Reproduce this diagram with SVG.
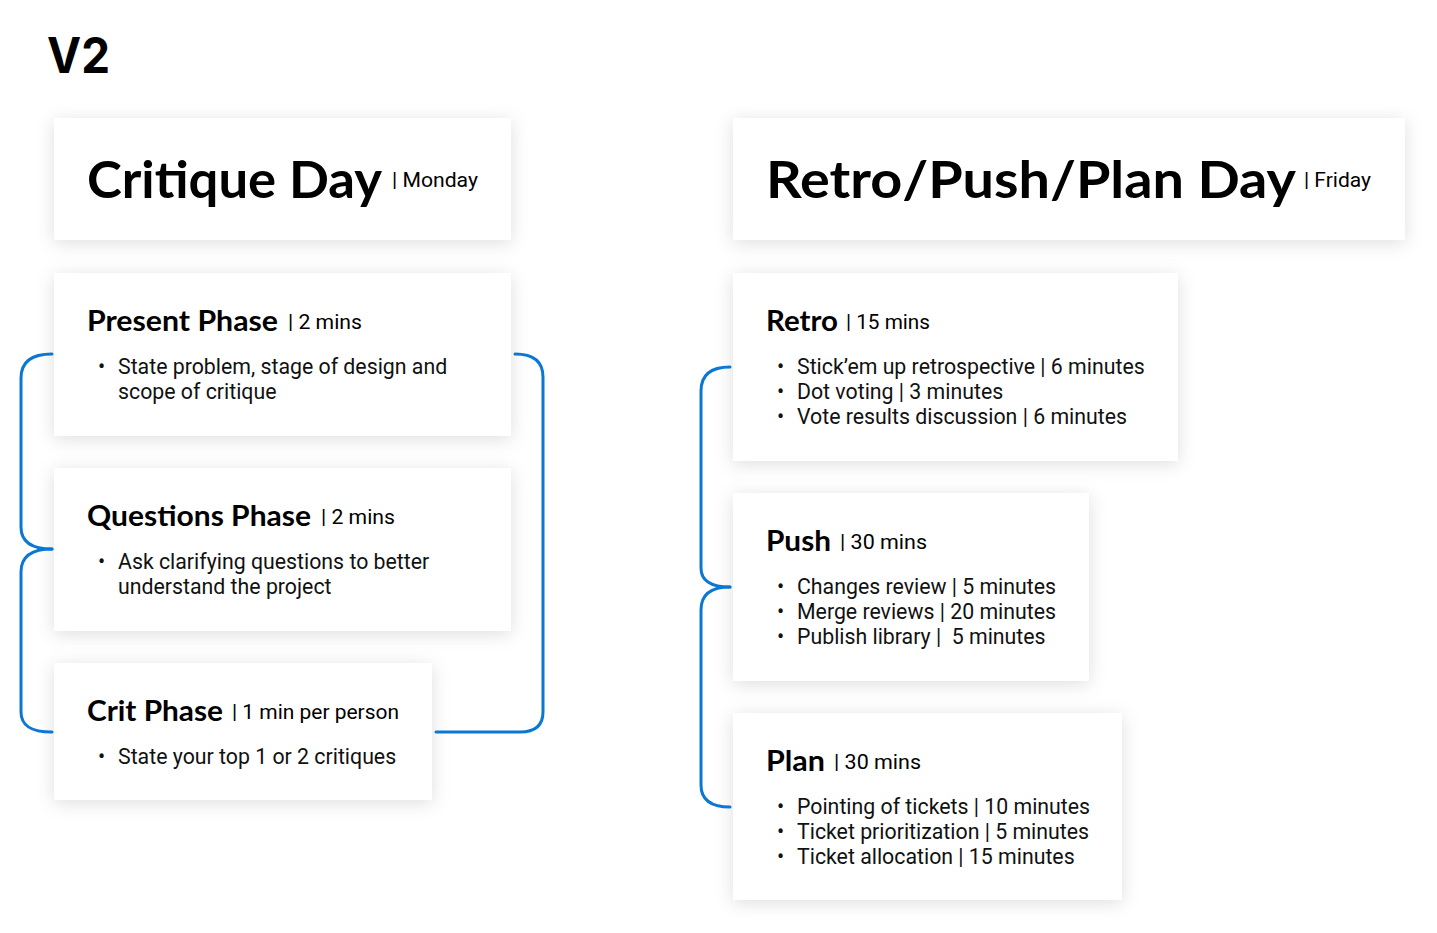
<svg xmlns="http://www.w3.org/2000/svg" width="1437" height="933" viewBox="0 0 1437 933">
<defs>
<filter id="sh" x="-10%" y="-20%" width="120%" height="140%">
<feDropShadow dx="0" dy="3" stdDeviation="9" flood-color="#000" flood-opacity="0.13"/>
</filter>
<style>
.card{fill:#fff;filter:url(#sh)}
.big{font-family:Lato,"Open Sans",sans-serif;font-weight:700;font-size:52px;fill:#000}
.sub{font-family:Roboto,"Open Sans",sans-serif;font-size:20px;fill:#000}
.h{font-family:Lato,"Open Sans",sans-serif;font-weight:700;font-size:28px;fill:#000}
.t{font-family:Roboto,"Noto Sans",sans-serif;font-size:21.3px;fill:#111;white-space:pre}
.br{fill:none;stroke:#0a78d2;stroke-width:3;stroke-linecap:round}
</style>
</defs>
<rect width="1437" height="933" fill="#fff"/>
<text x="47" y="73" font-family="Inter,'Liberation Sans',sans-serif" font-weight="700" font-size="50" textLength="63" lengthAdjust="spacingAndGlyphs">V2</text>

<g id="critique-day">
<rect class="card" x="54" y="118" width="457" height="122"/>
<text class="big" x="87" y="198" textLength="295" lengthAdjust="spacingAndGlyphs">Critique Day</text>
<text class="sub" x="392" y="187" textLength="86" lengthAdjust="spacingAndGlyphs">| Monday</text>
</g>
<g id="present-phase">
<rect class="card" x="54" y="273" width="457" height="163"/>
<text class="h" x="87" y="331" textLength="191" lengthAdjust="spacingAndGlyphs">Present Phase</text>
<text class="sub" x="288" y="329" textLength="74" lengthAdjust="spacingAndGlyphs">| 2 mins</text>
<text class="t" x="98" y="374">•</text>
<text class="t" x="118" y="374">State problem, stage of design and</text>
<text class="t" x="118" y="399">scope of critique</text>
</g>
<g id="questions-phase">
<rect class="card" x="54" y="468" width="457" height="163"/>
<text class="h" x="87" y="526" textLength="224" lengthAdjust="spacingAndGlyphs">Questions Phase</text>
<text class="sub" x="321" y="524" textLength="74" lengthAdjust="spacingAndGlyphs">| 2 mins</text>
<text class="t" x="98" y="569">•</text>
<text class="t" x="118" y="569">Ask clarifying questions to better</text>
<text class="t" x="118" y="594">understand the project</text>
</g>
<g id="crit-phase">
<rect class="card" x="54" y="663" width="378" height="137"/>
<text class="h" x="87" y="721" textLength="136" lengthAdjust="spacingAndGlyphs">Crit Phase</text>
<text class="sub" x="232" y="719" textLength="167" lengthAdjust="spacingAndGlyphs">| 1 min per person</text>
<text class="t" x="98" y="764">•</text>
<text class="t" x="118" y="764">State your top 1 or 2 critiques</text>
</g>

<g id="retro-push-plan-day">
<rect class="card" x="733" y="118" width="672" height="122"/>
<text class="big" x="766" y="198" textLength="530" lengthAdjust="spacingAndGlyphs">Retro/Push/Plan Day</text>
<text class="sub" x="1304" y="187" textLength="67" lengthAdjust="spacingAndGlyphs">| Friday</text>
</g>
<g id="retro">
<rect class="card" x="733" y="273" width="445" height="188"/>
<text class="h" x="766" y="331" textLength="72" lengthAdjust="spacingAndGlyphs">Retro</text>
<text class="sub" x="846" y="329" textLength="84" lengthAdjust="spacingAndGlyphs">| 15 mins</text>
<text class="t" x="777" y="374">•</text>
<text class="t" x="797" y="374">Stick’em up retrospective | 6 minutes</text>
<text class="t" x="777" y="399">•</text>
<text class="t" x="797" y="399">Dot voting | 3 minutes</text>
<text class="t" x="777" y="424">•</text>
<text class="t" x="797" y="424">Vote results discussion | 6 minutes</text>
</g>
<g id="push">
<rect class="card" x="733" y="493" width="356" height="188"/>
<text class="h" x="766" y="551" textLength="65" lengthAdjust="spacingAndGlyphs">Push</text>
<text class="sub" x="840" y="549" textLength="87" lengthAdjust="spacingAndGlyphs">| 30 mins</text>
<text class="t" x="777" y="594">•</text>
<text class="t" x="797" y="594">Changes review | 5 minutes</text>
<text class="t" x="777" y="619">•</text>
<text class="t" x="797" y="619">Merge reviews | 20 minutes</text>
<text class="t" x="777" y="644">•</text>
<text class="t" x="797" y="644" xml:space="preserve">Publish library |  5 minutes</text>
</g>
<g id="plan">
<rect class="card" x="733" y="713" width="389" height="187"/>
<text class="h" x="766" y="771" textLength="59" lengthAdjust="spacingAndGlyphs">Plan</text>
<text class="sub" x="834" y="769" textLength="87" lengthAdjust="spacingAndGlyphs">| 30 mins</text>
<text class="t" x="777" y="814">•</text>
<text class="t" x="797" y="814">Pointing of tickets | 10 minutes</text>
<text class="t" x="777" y="839">•</text>
<text class="t" x="797" y="839">Ticket prioritization | 5 minutes</text>
<text class="t" x="777" y="864">•</text>
<text class="t" x="797" y="864">Ticket allocation | 15 minutes</text>
</g>

<g id="connectors">
<path class="br" d="M52,354 C31,354 21,362 21,378 V527 C21,541 31,549 52,549"/>
<path class="br" d="M52,549 C31,549 21,557 21,572 V712 C21,726 31,732 52,732"/>
<path class="br" d="M515,354 C534,354 543,362 543,377 V712 C543,726 535,732 520,732 H436"/>
<path class="br" d="M730,367 C710,367 701,376 701,391 V568 C701,580 710,587 730,587"/>
<path class="br" d="M730,587 C710,587 701,595 701,610 V785 C701,799 710,807 730,807"/>
</g>
</svg>
